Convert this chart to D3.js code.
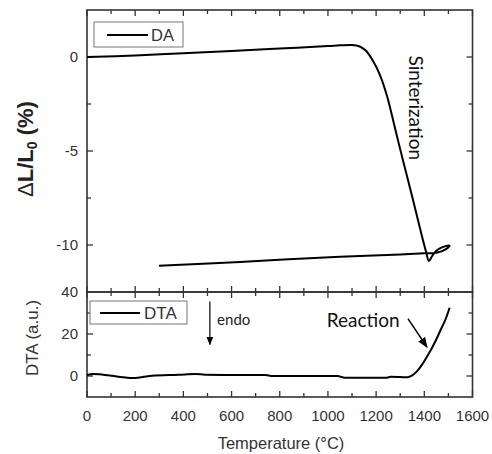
<!DOCTYPE html>
<html><head><meta charset="utf-8">
<script src="https://cdn.jsdelivr.net/npm/d3@7"></script>
<style>body{margin:0;background:#fff}svg{display:block}</style>
</head><body>
<svg id="c" width="492" height="454"></svg>
<script>
// Dilatometry (DA) curve: [temperature °C, ΔL/L0 %] in path order (heating then cooling)
const daTemp = [0,200,400,600,800,1000,1050,1100,1132,1158,1189,1216,1244,1272,1299,1327,1355,1382,1407,1419,1432,1450,1478,1505,1490,1455,1400,1300,1050,635,299];
const daVal  = [0,0.08,0.2,0.32,0.45,0.58,0.62,0.64,0.56,0.33,-0.25,-0.96,-2.02,-3.44,-4.86,-6.28,-7.7,-9.11,-10.35,-10.85,-10.6,-10.3,-10.1,-10.03,-10.22,-10.4,-10.44,-10.5,-10.62,-10.9,-11.1];
// DTA curve
const dtaTemp = [0,25,60,104,150,190,230,270,380,450,490,600,740,770,900,1040,1070,1245,1260,1300,1330,1350,1370,1390,1410,1430,1450,1470,1490,1505];
const dtaVal  = [0.5,1,0.7,0.1,-0.6,-1,-0.5,0.1,0.6,1,0.6,0.5,0.5,0,0,0,-0.8,-0.8,-0.4,-0.5,-0.6,0.3,2.3,5.3,9,13,17.5,22.5,27.5,32.5];
const xTicks = [0,200,400,600,800,1000,1200,1400,1600];
const daTicks = [0,-5,-10];
const dtaTicks = [0,20,40];

const svg = d3.select("#c");
const x = d3.scaleLinear().domain([0,1600]).range([87,472.5]);
const yT = d3.scaleLinear().domain([-12.5,2.5]).range([292,10]);
const yB = d3.scaleLinear().domain([-10,40]).range([397,292]);
const axisCol = "#333";
const tickFont = "Liberation Sans, Arial, sans-serif";

function panel(y, yMinor, yMajor, labelVals){
  const [y0,y1] = y.range();
  const g = svg.append("g");
  d3.range(0,1601,100).forEach(t=>{
    const len = t%200===0?6:4;
    g.append("line").attr("x1",x(t)).attr("x2",x(t)).attr("y1",y1).attr("y2",y1+len).attr("stroke",axisCol).attr("stroke-width",1.3);
    g.append("line").attr("x1",x(t)).attr("x2",x(t)).attr("y1",y0).attr("y2",y0-len).attr("stroke",axisCol).attr("stroke-width",1.3);
  });
  yMinor.forEach(v=>{
    const len = yMajor.includes(v)?6:4;
    g.append("line").attr("x1",x(0)).attr("x2",x(0)+len).attr("y1",y(v)).attr("y2",y(v)).attr("stroke",axisCol).attr("stroke-width",1.3);
    g.append("line").attr("x1",x(1600)).attr("x2",x(1600)-len).attr("y1",y(v)).attr("y2",y(v)).attr("stroke",axisCol).attr("stroke-width",1.3);
  });
  g.append("rect").attr("x",x(0)).attr("y",y1).attr("width",x(1600)-x(0)).attr("height",y0-y1)
    .attr("fill","none").attr("stroke",axisCol).attr("stroke-width",1.6);
  labelVals.forEach(v=>{
    g.append("text").attr("x",x(0)-9).attr("y",y(v)).attr("dy","0.36em").attr("text-anchor","end")
      .attr("font-family",tickFont).attr("font-size",15).attr("fill","#333").text(v);
  });
}
panel(yT, [0,-2.5,-5,-7.5,-10], daTicks, daTicks);
panel(yB, [0,10,20,30], dtaTicks, dtaTicks);

xTicks.forEach(t=>{
  svg.append("text").attr("x",x(t)).attr("y",416).attr("dy","0.36em").attr("text-anchor","middle")
    .attr("font-family",tickFont).attr("font-size",15).attr("fill","#333").text(t);
});
svg.append("text").attr("x",281).attr("y",449).attr("text-anchor","middle")
  .attr("font-family",tickFont).attr("font-size",16.5).attr("fill","#333").text("Temperature (°C)");

const t1 = svg.append("text").attr("transform","translate(33,149) rotate(-90)").attr("text-anchor","middle")
  .attr("font-family",tickFont).attr("font-size",22).attr("fill","#222");
t1.append("tspan").attr("font-weight","normal").text("\u0394");
t1.append("tspan").attr("font-weight","bold").text("L/L");
t1.append("tspan").attr("font-weight","bold").attr("font-size",14).attr("dy",4).text("0");
t1.append("tspan").attr("font-weight","bold").attr("dy",-4).text(" (%)");
svg.append("text").attr("transform","translate(38,338) rotate(-90)").attr("text-anchor","middle")
  .attr("font-family",tickFont).attr("font-size",17).attr("fill","#333").text("DTA (a.u.)");

const daData = daTemp.map((t,i)=>[t,daVal[i]]);
const dtaData = dtaTemp.map((t,i)=>[t,dtaVal[i]]);
svg.append("path").datum(daData).attr("fill","none").attr("stroke","#000").attr("stroke-width",2)
  .attr("stroke-linejoin","round")
  .attr("d",d3.line().x(d=>x(d[0])).y(d=>yT(d[1])).curve(d3.curveCatmullRom.alpha(0.5)));
svg.append("path").datum(dtaData).attr("fill","none").attr("stroke","#000").attr("stroke-width",2)
  .attr("stroke-linejoin","round")
  .attr("d",d3.line().x(d=>x(d[0])).y(d=>yB(d[1])).curve(d3.curveMonotoneX));

function legendBox(bx,by,bw,bh){
  svg.append("rect").attr("x",bx).attr("y",by).attr("width",bw).attr("height",bh)
    .attr("fill","#fff").attr("stroke","#777").attr("stroke-width",1);
}
legendBox(94,22,89,25);
svg.append("line").attr("x1",107).attr("x2",148).attr("y1",35).attr("y2",35).attr("stroke","#000").attr("stroke-width",2);
svg.append("text").attr("x",151).attr("y",35).attr("dy","0.36em").attr("font-family",tickFont).attr("font-size",16.5).attr("fill","#333").text("DA");
legendBox(90,301,97,23);
svg.append("line").attr("x1",100).attr("x2",140).attr("y1",313).attr("y2",313).attr("stroke","#000").attr("stroke-width",2);
svg.append("text").attr("x",144).attr("y",313).attr("dy","0.36em").attr("font-family",tickFont).attr("font-size",17).attr("fill","#333").text("DTA");

const annFont = "Lato, 'Open Sans', sans-serif";
svg.append("defs").append("marker").attr("id","ah").attr("viewBox","0 0 10 10").attr("refX",9).attr("refY",5)
  .attr("markerWidth",7).attr("markerHeight",7).attr("orient","auto-start-reverse")
  .append("path").attr("d","M0,1 L10,5 L0,9 Z").attr("fill","#000");
svg.append("line").attr("x1",x(510)).attr("x2",x(510)).attr("y1",yB(35.5)).attr("y2",yB(15))
  .attr("stroke","#000").attr("stroke-width",1.2).attr("marker-end","url(#ah)");
svg.append("text").attr("x",x(540)).attr("y",yB(27)).attr("dy","0.36em").attr("font-family",annFont).attr("font-size",15).attr("fill","#222").text("endo");
svg.append("text").attr("x",x(1146)).attr("y",yB(26.7)).attr("dy","0.36em").attr("text-anchor","middle")
  .attr("font-family",annFont).attr("font-size",19).attr("fill","#111").text("Reaction");
svg.append("line").attr("x1",x(1332)).attr("x2",x(1411)).attr("y1",yB(27.3)).attr("y2",yB(13.8))
  .attr("stroke","#000").attr("stroke-width",1.5).attr("marker-end","url(#ah)");
svg.append("text").attr("transform",`translate(${x(1366)},${yT(-2.7)}) rotate(90)`).attr("dy","0.36em").attr("text-anchor","middle")
  .attr("font-family",annFont).attr("font-size",19).attr("fill","#111").text("Sinterization");
</script>
</body></html>
